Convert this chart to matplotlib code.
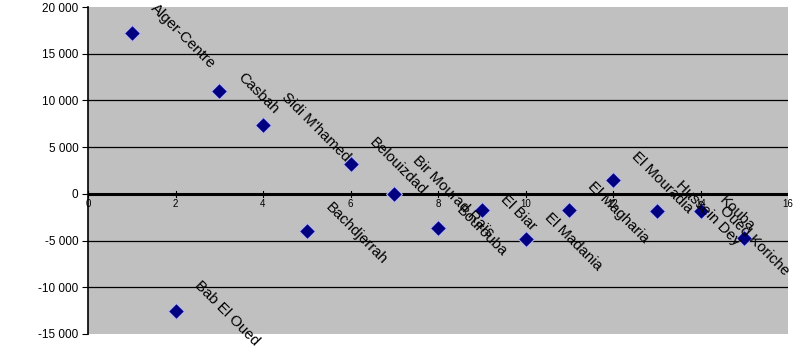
import matplotlib
matplotlib.use("Agg")
import matplotlib.pyplot as plt
from matplotlib.ticker import FuncFormatter

plt.rcParams['font.family'] = ['Liberation Sans', 'DejaVu Sans']

# Data
rank = [1, 2, 3, 4, 5, 6, 7, 8, 9, 10, 11, 12, 13, 14, 15]
values = [17200, -12500, 11000, 7400, -4000, 3200, 0, -3700, -1700, -4800,
          -1700, 1500, -1800, -1800, -4700]
communes = ["Alger-Centre", "Bab El Oued", "Casbah", "Sidi M'hamed", "Bachdjerrah",
            "Belouizdad", "Bir Mourad Raïs", "Bourouba", "El Biar", "El Madania",
            "El Magharia", "El Mouradia", "Hussein Dey", "Kouba", "Oued Koriche"]
x_ticks = [0, 2, 4, 6, 8, 10, 12, 14, 16]
y_ticks = [-15000, -10000, -5000, 0, 5000, 10000, 15000, 20000]

fig = plt.figure(figsize=(7.97, 3.5), dpi=100, facecolor='white')
ax = fig.add_axes([88/797, 16/350, 700/797, 327/350])
ax.set_facecolor('#c0c0c0')

ax.set_xlim(0, 16)
ax.set_ylim(-15000, 20000)

# horizontal grid lines
for y in y_ticks:
    if y not in (0, -15000, 20000):
        ax.axhline(y, color='black', lw=0.9, zorder=1)
ax.axhline(0, color='black', lw=2.2, zorder=2)

ax.plot(rank, values, linestyle='none', marker='D', markersize=8,
        markerfacecolor='#000080', markeredgecolor='#b8b8f0', markeredgewidth=0.8, zorder=3)

labels = []
for xi, yi, name in zip(rank, values, communes):
    t = ax.annotate(name, (xi, yi), xytext=(11.5, -2), textcoords='offset points',
                    rotation=-45, ha='left', va='center',
                    fontsize=10.8, color='black', zorder=4, annotation_clip=False)
    labels.append(t)

# spines
for s in ['top', 'right', 'bottom']:
    ax.spines[s].set_visible(False)
ax.spines['left'].set_color('black')
ax.spines['left'].set_linewidth(1.2)

ax.set_yticks(y_ticks)
ax.yaxis.set_major_formatter(FuncFormatter(lambda v, p: "{:,.0f}".format(v).replace(",", " ")))
ax.tick_params(axis='y', direction='out', length=4, labelsize=8.5, pad=3)

# x axis sits on the zero line
ax.set_xticks(x_ticks)
ax.tick_params(axis='x', length=0, labelbottom=False)
for xt in x_ticks:
    ax.text(xt, -600, str(xt), fontsize=7, ha='center', va='top', zorder=4)
    ax.plot([xt, xt], [-300, 300], color='black', lw=0.8, zorder=2)

# keep labels inside the figure (like the original chart does)
fig.canvas.draw()
W = fig.bbox.width
for t in labels:
    bb = t.get_window_extent()
    if bb.x1 > W - 5:
        dx = (bb.x1 - (W - 5)) * 72 / fig.dpi
        ox, oy = t.xyann
        t.xyann = (ox - dx, oy)

plt.savefig("out.png", dpi=100)
